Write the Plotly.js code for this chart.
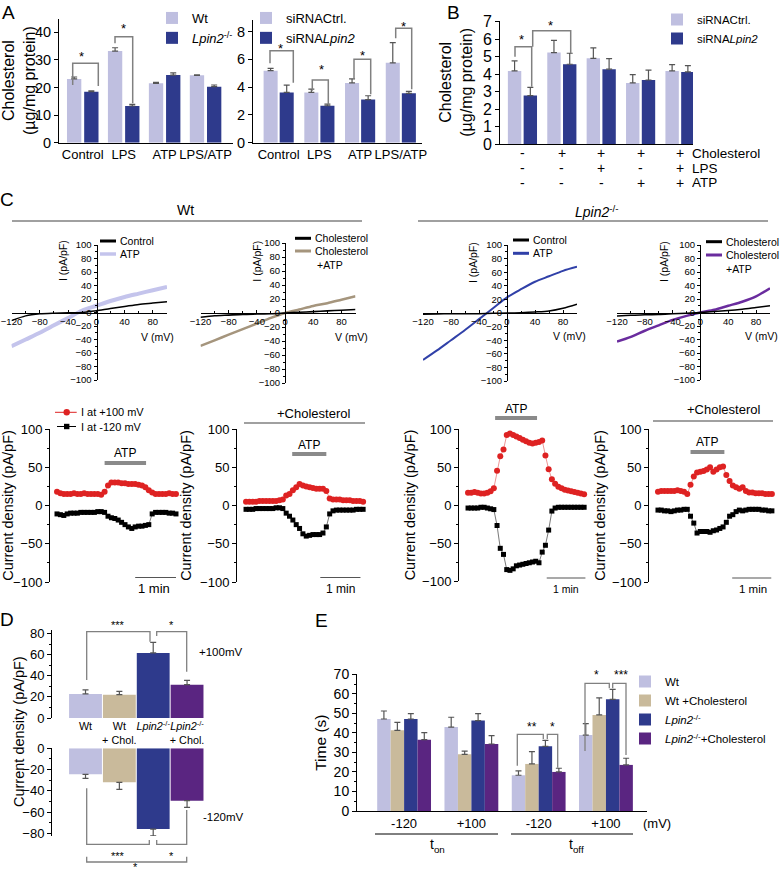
<!DOCTYPE html>
<html><head><meta charset="utf-8">
<script src="https://cdn.plot.ly/plotly-3.0.1.min.js"></script>
<style>html,body{margin:0;padding:0;background:#fff}#chart{width:782px;height:871px}</style>
</head><body><div id="chart"></div>
<script>
// ================= DATA =================
// Panel A (left)
const aCategories = ['Control', 'LPS', 'ATP', 'LPS/ATP'];
const aSeriesLeft = ['Wt', 'Lpin2-/-'];
const aWt = [23.1, 33.2, 21.5, 24.4];
const aWtErr = [0.7, 1.2, 0.4, 0.2];
const aKo = [18.5, 13.3, 24.5, 20.3];
const aKoErr = [0.3, 0.6, 0.8, 0.6];
// Panel A (right) and B series names
const siSeries = ['siRNACtrl.', 'siRNALpin2'];
const aSiCtrl = [5.18, 3.62, 4.3, 5.75];
const aSiCtrlErr = [0.17, 0.24, 0.3, 1.45];
const aSiLpin2 = [3.62, 2.66, 3.1, 3.55];
const aSiLpin2Err = [0.53, 0.12, 0.28, 0.15];
// Panel B
const bGroups = [0, 1, 2, 3, 4];
const bSiCtrl = [4.18, 5.23, 4.9, 3.49, 4.18];
const bSiCtrlErr = [0.57, 0.69, 0.6, 0.48, 0.36];
const bSiLpin2 = [2.77, 4.56, 4.28, 3.66, 4.12];
const bSiLpin2Err = [0.47, 0.63, 0.6, 0.56, 0.36];
const bCholRow = ['-', '+', '+', '+', '+'];
const bLpsRow = ['-', '-', '+', '-', '+'];
const bAtpRow = ['-', '-', '-', '+', '+'];
const bRowNames = ['Cholesterol', 'LPS', 'ATP'];
// Panel C: I-V curves (mV, pA/pF)
const ivV = [-120, -100, -80, -60, -40, -20, 0, 20, 40, 60, 80, 100];
const wtCtrlIV = [-12, -5, -2, -1, -0.5, 0, 2.5, 6, 9, 12, 14, 16];
const wtAtpIV = [-50, -40, -30, -19, -8, 3, 10, 17, 23, 28, 33, 38];
const wtCholIV = [-6, -4, -3, -2, -1.5, -1, 0, 1, 2, 3, 4, 5];
const wtCholAtpIV = [-47, -39, -31, -23, -15, -7, 0, 5, 10, 14, 19, 24];
const koCtrlIV = [-2, -1.5, -1, -1, -1, -0.5, 0, 0.5, 1.5, 3, 7, 13];
const koAtpIV = [-69, -55, -40, -25, -9, 7, 23, 35, 46, 54, 62, 68];
const koCholIV = [-5, -4, -3.5, -3, -2, -1, 0, 1.5, 3, 5, 7.5, 10];
const koCholAtpIV = [-43, -36, -27, -19, -11, -5, 0, 4, 10, 16, 24, 36];
// Panel C: time courses (s)
const tcTime = [0,5,10,15,20,25,30,35,40,45,50,55,60,65,70,75,80,85,90,95,100,105,110,115,120,125,130,135,140,145,150,155,160,165,170,175];
const tcTimeKo = [0,5,10,15,20,25,30,35,40,45,50,55,60,65,70,75,80,85,90,95,100,105,110,115,120,125,130,135,140,145,150,155,160,165,170,175,180];
const wtRed = [18,16,15,15,15,16,15,15,16,15,15,15,15,14,18,26,30,30,30,29,29,28,28,28,27,26,24,20,17,15,15,15,15,16,15,15];
const wtBlack = [-11,-12,-13,-11,-10,-10,-10,-9,-9,-9,-9,-9,-8,-8,-9,-14,-16,-17,-19,-22,-25,-28,-30,-28,-27,-27,-26,-25,-11,-9,-9,-9,-9,-10,-10,-11];
const wtCholRed = [5,5,5,5,6,6,6,6,6,6,7,8,13,15,20,24,28,26,25,24,23,22,22,22,19,9,8,8,8,7,7,7,6,6,6,5];
const wtCholBlack = [-5,-5,-5,-4,-4,-4,-4,-4,-4,-3,-3,-4,-10,-14,-19,-25,-30,-37,-40,-39,-38,-38,-38,-36,-28,-11,-7,-6,-6,-6,-6,-6,-6,-5,-5,-5];
const koRed = [16,16,17,16,15,15,16,18,22,45,64,73,92,94,92,90,88,86,84,82,81,82,83,85,65,47,34,28,24,22,20,19,18,17,16,15,14];
const koBlack = [-4,-4,-4,-4,-3,-3,-4,-5,-6,-27,-57,-65,-85,-86,-84,-80,-79,-78,-77,-76,-75,-74,-76,-62,-53,-33,-8,-4,-3,-3,-3,-3,-3,-3,-3,-3,-3];
const koCholRed = [18,19,19,19,19,19,20,19,18,15,27,38,43,44,45,47,50,44,47,50,51,40,32,26,24,22,24,19,17,17,16,16,16,15,15,15];
const koCholBlack = [-6,-6,-7,-7,-8,-7,-6,-6,-5,-5,-14,-23,-36,-34,-34,-34,-35,-33,-32,-30,-28,-22,-14,-12,-8,-6,-7,-6,-5,-5,-5,-5,-6,-6,-7,-7];
const atpStart = [70, 69, 42, 50];
const atpEnd = [131, 120, 107, 102];
const minStart = [115, 111, 122, 114];
const minEnd = [175, 171, 182, 174];
// Panel D
const dLabels = ['Wt', 'Wt\n+ Chol.', 'Lpin2-/-', 'Lpin2-/-\n+ Chol.'];
const dIndex = [0, 1, 2, 3];
const dTop = [22.8, 22.1, 61.7, 31.6];
const dTopErr = [3.8, 3.2, 10.1, 4.1];
const dBottom = [-24.5, -32, -76, -49.3];
const dBottomErr = [3.8, 6.6, 6.3, 6.2];
// Panel E
const eGroups = [0, 1, 2, 3];
const eTickLabels = ['-120', '+100', '-120', '+100'];
const eSeries = ['Wt', 'Wt +Cholesterol', 'Lpin2-/-', 'Lpin2-/-+Cholesterol'];
const eWt = [47.1, 43.0, 18.3, 38.9];
const eWtErr = [4.1, 5.0, 2.2, 5.8];
const eWtChol = [41.3, 29.0, 24.1, 49.2];
const eWtCholErr = [4.1, 1.7, 6.3, 8.7];
const eKo = [47.1, 46.3, 33.1, 57.2];
const eKoErr = [2.8, 3.6, 3.1, 5.1];
const eKoChol = [36.5, 34.3, 20.0, 23.6];
const eKoCholErr = [3.6, 4.3, 1.9, 3.4];

// ================= STYLE / HELPERS =================
const FONT = 'Liberation Sans, Arial, Helvetica, sans-serif';
const W = 782, H = 871;
const px = v => v / W;
const py = v => 1 - v / H;
const dX = (a, b) => [px(a), px(b)];
const dY = (top, bottom) => [py(bottom), py(top)];
const COL = {lav:'#bfbfe0', navy:'#2e3a8c', tan:'#c9ba9b', purple:'#5a2581',
  ivLav:'#c4c4ec', ivTan:'#a5957d', ivBlue:'#3040a8', ivPurple:'#6a2c9e',
  red:'#de2222', redLine:'#e87a7a', gray:'#808080', err:'#555555'};
const dColors = [COL.lav, COL.tan, COL.navy, COL.purple];
// rich-text formatting (italic gene name, superscript -/-) with explicit sizes
const fmt = (s, size) => s
  .replace('Lpin2-/-', '<span style="font-style:italic;font-size:' + size + 'px">Lpin2</span>' +
    '<span style="font-size:' + (0.7 * size).toFixed(1) + 'px;baseline-shift:' + (0.38 * size).toFixed(1) + 'px">-/-</span>')
  .replace('siRNALpin2', 'siRNA<span style="font-style:italic;font-size:' + size + 'px">Lpin2</span>')
  .replace('\n', '<br>');
const sub = (base, s, size) => base + '<span style="font-size:' + (0.7 * size).toFixed(1) + 'px;baseline-shift:-' + (0.28 * size).toFixed(1) + 'px">' + s + '</span>';

const up = (arr, c) => ({type:'data', symmetric:false, array:arr, arrayminus:arr.map(() => 0), color:c || COL.err, thickness:1.2, width:3});
const down = (arr, c) => ({type:'data', symmetric:false, array:arr.map(() => 0), arrayminus:arr, color:c || COL.err, thickness:1.2, width:3});
const baseAx = o => Object.assign({showgrid:false, zeroline:false, showline:true, linecolor:'#000', linewidth:1,
  ticks:'outside', ticklen:4, tickcolor:'#000', tickwidth:1, fixedrange:true, tickfont:{size:14, color:'#000'}}, o);

const traces = [];
// A left
traces.push({type:'bar', name:fmt(aSeriesLeft[0], 13), x:aCategories, y:aWt, xaxis:'x', yaxis:'y', offset:-0.385, width:0.35,
  marker:{color:COL.lav}, error_y:up(aWtErr), legend:'legend'});
traces.push({type:'bar', name:fmt(aSeriesLeft[1], 13), x:aCategories, y:aKo, xaxis:'x', yaxis:'y', offset:0.035, width:0.35,
  marker:{color:COL.navy}, error_y:up(aKoErr), legend:'legend'});
// A right
traces.push({type:'bar', name:fmt(siSeries[0], 13), x:aCategories, y:aSiCtrl, xaxis:'x2', yaxis:'y2', offset:-0.37, width:0.345,
  marker:{color:COL.lav}, error_y:up(aSiCtrlErr), legend:'legend2'});
traces.push({type:'bar', name:fmt(siSeries[1], 13), x:aCategories, y:aSiLpin2, xaxis:'x2', yaxis:'y2', offset:0.025, width:0.345,
  marker:{color:COL.navy}, error_y:up(aSiLpin2Err), legend:'legend2'});
// B
traces.push({type:'bar', name:fmt(siSeries[0], 11.5), x:bGroups, y:bSiCtrl, xaxis:'x3', yaxis:'y3', offset:-0.37, width:0.34,
  marker:{color:COL.lav}, error_y:up(bSiCtrlErr), legend:'legend3'});
traces.push({type:'bar', name:fmt(siSeries[1], 11.5), x:bGroups, y:bSiLpin2, xaxis:'x3', yaxis:'y3', offset:0.03, width:0.34,
  marker:{color:COL.navy}, error_y:up(bSiLpin2Err), legend:'legend3'});
// C: I-V
const iv = (y, ax, color, w) => ({type:'scatter', mode:'lines', x:ivV, y:y, xaxis:'x' + ax, yaxis:'y' + ax,
  line:{color:color, width:w, shape:'spline', smoothing:0.8}, showlegend:false, hoverinfo:'skip'});
traces.push(iv(wtAtpIV, 4, COL.ivLav, 4));
traces.push(iv(wtCtrlIV, 4, '#000', 1.5));
traces.push(iv(wtCholAtpIV, 5, COL.ivTan, 2.5));
traces.push(iv(wtCholIV, 5, '#000', 1.6));
traces.push(iv(koAtpIV, 6, COL.ivBlue, 2));
traces.push(iv(koCtrlIV, 6, '#000', 1.5));
traces.push(iv(koCholAtpIV, 7, COL.ivPurple, 2.5));
traces.push(iv(koCholIV, 7, '#000', 1.5));
// C: time courses
const tcRed = (t, y, ax) => ({type:'scatter', mode:'lines+markers', x:t, y:y, xaxis:'x' + ax, yaxis:'y' + ax,
  line:{color:COL.redLine, width:0.8}, marker:{color:COL.red, size:6, symbol:'circle'}, showlegend:false, cliponaxis:false});
const tcBlack = (t, y, ax) => ({type:'scatter', mode:'lines+markers', x:t, y:y, xaxis:'x' + ax, yaxis:'y' + ax,
  line:{color:'#555', width:0.8}, marker:{color:'#000', size:5, symbol:'square'}, showlegend:false, cliponaxis:false});
traces.push(tcRed(tcTime, wtRed, 8), tcBlack(tcTime, wtBlack, 8));
traces.push(tcRed(tcTime, wtCholRed, 9), tcBlack(tcTime, wtCholBlack, 9));
traces.push(tcRed(tcTimeKo, koRed, 10), tcBlack(tcTimeKo, koBlack, 10));
traces.push(tcRed(tcTime, koCholRed, 11), tcBlack(tcTime, koCholBlack, 11));
// D
traces.push({type:'bar', x:dIndex, y:dTop, xaxis:'x12', yaxis:'y12', offset:-0.485, width:0.97,
  marker:{color:dColors}, error_y:up(dTopErr), showlegend:false});
traces.push({type:'bar', x:dIndex, y:dBottom, xaxis:'x13', yaxis:'y13', offset:-0.485, width:0.97,
  marker:{color:dColors}, error_y:down(dBottomErr), showlegend:false});
// E
const eBar = (i, y, err, color, off) => ({type:'bar', name:fmt(eSeries[i], 11.5), x:eGroups, y:y, xaxis:'x14', yaxis:'y14',
  offset:off, width:0.2, marker:{color:color}, error_y:up(err), legend:'legend4'});
traces.push(eBar(0, eWt, eWtErr, COL.lav, -0.4));
traces.push(eBar(1, eWtChol, eWtCholErr, COL.tan, -0.2));
traces.push(eBar(2, eKo, eKoErr, COL.navy, 0));
traces.push(eBar(3, eKoChol, eKoCholErr, COL.purple, 0.2));

// ================= LAYOUT =================
const layout = {
  width:W, height:H, margin:{l:0, r:0, t:0, b:0},
  paper_bgcolor:'#ffffff', plot_bgcolor:'rgba(0,0,0,0)',
  font:{family:FONT, color:'#000', size:12},
  barmode:'overlay', showlegend:true, hovermode:false,
  annotations:[], shapes:[]
};
const cholTitle = 'Cholesterol<br>(µg/mg protein)';
layout.xaxis = baseAx({domain:dX(59, 233), range:[-0.58, 3.67], anchor:'y', type:'category', ticks:'', tickangle:0, tickfont:{size:13}});
layout.yaxis = baseAx({domain:dY(18.5, 142.7), range:[0, 45], anchor:'x', dtick:10, tickfont:{size:14.5},
  title:{text:cholTitle, font:{size:16}, standoff:2}});
layout.xaxis2 = baseAx({domain:dX(253, 422), range:[-0.63, 3.52], anchor:'y2', type:'category', ticks:'', tickangle:0, tickfont:{size:13}});
layout.yaxis2 = baseAx({domain:dY(20, 142.7), range:[0, 8.83], anchor:'x2', dtick:2, tickfont:{size:14.5}});
layout.xaxis3 = baseAx({domain:dX(500, 693), range:[-0.57, 4.33], anchor:'y3', showticklabels:false, ticks:''});
layout.yaxis3 = baseAx({domain:dY(20.7, 144), range:[0, 7.05], anchor:'x3', dtick:1, tickfont:{size:16},
  title:{text:cholTitle, font:{size:16}, standoff:6}});
const ivX = (a, b, yPos) => baseAx({domain:dX(a, b), range:[-120, 100], anchor:'free', position:py(yPos),
  ticks:'inside', ticklen:3, tick0:0, dtick:40, tickfont:{size:9.5}, ticklabeloverflow:'allow',
  minor:{dtick:20, ticks:'inside', ticklen:2, tickcolor:'#000', showgrid:false}});
const ivY = (top, bottom, xPos) => baseAx({domain:dY(top, bottom), range:[-100, 100], anchor:'free', position:px(xPos),
  ticks:'outside', ticklen:3, dtick:20, tickfont:{size:9.5},
  minor:{dtick:10, ticks:'outside', ticklen:2, tickcolor:'#000', showgrid:false}});
layout.xaxis4 = ivX(11.5, 167, 312.5); layout.yaxis4 = ivY(245, 380, 96.5);
layout.xaxis5 = ivX(200.5, 355.5, 313); layout.yaxis5 = ivY(243, 383, 285);
layout.xaxis6 = ivX(423, 577, 313);   layout.yaxis6 = ivY(245, 381, 507);
layout.xaxis7 = ivX(617, 770, 312.5); layout.yaxis7 = ivY(245, 380, 700);
const tcX = (a, b, r, yId) => ({domain:dX(a, b), range:r, anchor:yId, visible:false, fixedrange:true});
const tcY = (top, bottom, xId, so) => baseAx({domain:dY(top, bottom), range:[-100, 100], anchor:xId, dtick:50,
  tickfont:{size:13}, minor:{dtick:25, ticks:'outside', ticklen:2, tickcolor:'#000', showgrid:false},
  title:{text:'Current density (pA/pF)', font:{size:14.5}, standoff:so}});
layout.xaxis8 = tcX(50, 180, [-10.3, 180.9], 'y8');   layout.yaxis8 = tcY(429, 582, 'x8', 3);
layout.xaxis9 = tcX(237, 365, [-13.5, 177.8], 'y9');  layout.yaxis9 = tcY(429, 582, 'x9', 5);
layout.xaxis10 = tcX(459, 588, [-14, 186], 'y10');    layout.yaxis10 = tcY(429, 581, 'x10', 3);
layout.xaxis11 = tcX(649, 776, [-13.8, 181.3], 'y11'); layout.yaxis11 = tcY(429, 582, 'x11', 3);
layout.xaxis12 = baseAx({domain:dX(52, 205), range:[-0.99, 3.53], anchor:'y12', showline:false, ticks:'', tickangle:0,
  tickvals:dIndex, ticktext:dLabels.map(s => fmt(s, 10.8)), tickfont:{size:10.8}});
layout.yaxis12 = baseAx({domain:dY(630, 718), range:[0, 83.5], anchor:'x12', dtick:20, tickfont:{size:13},
  minor:{dtick:10, ticks:'outside', ticklen:2, tickcolor:'#000', showgrid:false}});
layout.xaxis13 = {domain:dX(52, 205), range:[-0.99, 3.53], anchor:'y13', visible:false, fixedrange:true};
layout.yaxis13 = baseAx({domain:dY(748.3, 836), range:[-82.5, 0], anchor:'x13', dtick:20, tickfont:{size:13},
  minor:{dtick:10, ticks:'outside', ticklen:2, tickcolor:'#000', showgrid:false}});
layout.xaxis14 = baseAx({domain:dX(357, 647), range:[-0.7, 3.61], anchor:'y14', ticks:'', tickangle:0,
  tickvals:eGroups, ticktext:eTickLabels, tickfont:{size:13}});
layout.yaxis14 = baseAx({domain:dY(674.3, 811), range:[0, 70], anchor:'x14', dtick:10, tickfont:{size:14},
  minor:{dtick:5, ticks:'outside', ticklen:2, tickcolor:'#000', showgrid:false},
  title:{text:'Time (s)', font:{size:15.5}, standoff:3}});

const lg = (x, y, size) => ({x:px(x), y:py(y), xanchor:'left', yanchor:'top', bgcolor:'rgba(0,0,0,0)',
  borderwidth:0, font:{size:size, color:'#000'}, itemwidth:30, tracegroupgap:0, traceorder:'normal'});
layout.legend = lg(152, 3, 13);
layout.legend2 = lg(246, 3, 13);
layout.legend3 = lg(657, 5, 11.5);
layout.legend4 = lg(625, 667, 11.5);

// ---- annotations & shapes ----
const ann = layout.annotations, shp = layout.shapes;
const T = (text, x, y, size, o) => ann.push(Object.assign({text:text, x:px(x), y:py(y), xref:'paper', yref:'paper',
  showarrow:false, font:{size:size, color:'#000'}, xanchor:'center', yanchor:'middle'}, o || {}));
const star = (text, x, yGlyph, size, o) => T(text, x, yGlyph + 0.3 * size, size, o);
const poly = (pts, color, w) => shp.push({type:'path', xref:'paper', yref:'paper',
  path:pts.map((p, i) => (i ? 'L' : 'M') + px(p[0]) + ',' + py(p[1])).join(' '), line:{color:color, width:w}});
const hline = (x0, x1, y, color, w) => shp.push({type:'line', xref:'paper', yref:'paper', x0:px(x0), x1:px(x1), y0:py(y), y1:py(y), line:{color:color, width:w}});

// panel letters
T('A', 8.5, 0, 19, {yanchor:'top'}); T('B', 453, 0, 19, {yanchor:'top'});
T('C', 7, 200, 19); T('D', 7, 619, 19); T('E', 321.5, 620, 19);
// A brackets & stars
[[[72.7,85],[72.7,63.3],[98.3,63.3],[98.3,86]],
 [[115,43.3],[115,36.7],[132.7,36.7],[132.7,103.3]],
 [[270,63.3],[270,50.7],[293.3,50.7],[293.3,82.7]],
 [[312.3,90.7],[312.3,80],[328.3,80],[328.3,105]],
 [[354,78.7],[354,59.3],[370.7,59.3],[370.7,94.3]],
 [[395.7,38.3],[395.7,28.3],[411.7,28.3],[411.7,89.3]]].forEach(b => poly(b, COL.gray, 1.5));
[[81.7,52.7],[123.3,25],[280,45],[321.7,65.7],[362.7,51.7],[403,22.7]].forEach(s => star('*', s[0], s[1], 13));
// B brackets, stars, condition table
poly([[515,56.7],[515,46.7],[531.7,46.7],[531.7,86.7]], COL.gray, 1.5);
poly([[532.7,46.7],[532.7,30.7],[570.7,30.7],[570.7,53.3]], COL.gray, 1.5);
star('*', 521.7, 36, 13); star('*', 550, 21.7, 13);
const rowsY = [153.3, 168.3, 182.7];
[bCholRow, bLpsRow, bAtpRow].forEach((row, r) => {
  row.forEach((sgn, i) => ann.push({text:sgn, x:bGroups[i], xref:'x3', y:py(rowsY[r]), yref:'paper', showarrow:false,
    font:{size:14, color:'#000'}, xanchor:'center', yanchor:'middle', height:12, borderpad:0}));
  T(bRowNames[r], 691, rowsY[r], 13.5, {xanchor:'left', height:13, borderpad:0});
});
// C headers
T('Wt', 185, 210, 14); hline(12, 362, 221, COL.gray, 1.5);
T(fmt('Lpin2-/-', 14), 597, 212, 14); hline(418, 768, 221, COL.gray, 1.5);
// IV axis labels
[[63, 261], [256.7, 261], [473, 263], [664, 262]].forEach(p => T('I (pA/pF)', p[0], p[1], 10.5, {textangle:-90}));
[[157.5, 337], [351, 337], [569, 336], [761, 336]].forEach(p => T('V (mV)', p[0], p[1], 10.5));
// IV legends
const ivLeg = (x, y, color, w, text) => { hline(x, x + 16, y, color, w); T(text, x + 18, y, 10.5, {xanchor:'left'}); };
ivLeg(100, 241, '#000', 3, 'Control'); ivLeg(100, 254, COL.ivLav, 3.5, 'ATP');
ivLeg(295, 238.3, '#000', 3, 'Cholesterol'); ivLeg(295, 251, COL.ivTan, 3, 'Cholesterol'); T('+ATP', 315, 265, 10.5, {xanchor:'left'});
ivLeg(513, 240, '#000', 3, 'Control'); ivLeg(513, 253.3, COL.ivBlue, 3, 'ATP');
ivLeg(706, 241.7, '#000', 3, 'Cholesterol'); ivLeg(706, 255, COL.ivPurple, 3, 'Cholesterol'); T('+ATP', 724, 269, 10.5, {xanchor:'left'});
// time-course legend
hline(55, 76.7, 412.3, COL.red, 1);
shp.push({type:'circle', xref:'paper', yref:'paper', x0:px(63.5), x1:px(69.9), y0:py(409.1), y1:py(415.5), fillcolor:COL.red, line:{width:0}});
T('I at +100 mV', 79, 412.3, 11, {xanchor:'left'});
hline(57, 76, 426.5, '#000', 1);
shp.push({type:'rect', xref:'paper', yref:'paper', x0:px(64), x1:px(69.4), y0:py(423.8), y1:py(429.2), fillcolor:'#000', line:{width:0}});
T('I at -120 mV', 79, 426.5, 11, {xanchor:'left'});
// ATP bars and 1-min scale bars
const atpY = [463, 454, 418, 452];
const atpTextY = [453, 444.5, 409, 442];
const minY = [577.5, 577.5, 578, 578];
const minTxt = [[154, 588, 13], [340, 588.5, 12], [566, 589.3, 10.5], [753, 589, 11.5]];
[8, 9, 10, 11].forEach((ax, i) => {
  shp.push({type:'line', xref:'x' + ax, yref:'paper', x0:atpStart[i], x1:atpEnd[i], y0:py(atpY[i]), y1:py(atpY[i]), line:{color:'#8a8a8a', width:4}});
  ann.push({text:'ATP', x:(atpStart[i] + atpEnd[i]) / 2, xref:'x' + ax, y:py(atpTextY[i]), yref:'paper', showarrow:false,
    font:{size:12, color:'#000'}, xanchor:'center', yanchor:'middle'});
  shp.push({type:'line', xref:'x' + ax, yref:'paper', x0:minStart[i], x1:minEnd[i], y0:py(minY[i]), y1:py(minY[i]), line:{color:'#555', width:1.2}});
  T('1 min', minTxt[i][0], minTxt[i][1], minTxt[i][2]);
});
T('+Cholesterol', 313, 413.3, 13); hline(244, 365, 423, COL.gray, 1.5);
T('+Cholesterol', 723, 410, 13); hline(653, 773, 421, COL.gray, 1.5);
// D
T('Current density (pA/pF)', 19, 732, 14.5, {textangle:-90});
T('+100mV', 221, 652, 11.5); T('-120mV', 223, 817, 11.5);
[[[86.7,680],[86.7,631.7],[150,631.7],[150,641.7]],
 [[156.7,636],[156.7,631.7],[186.7,631.7],[186.7,671.7]],
 [[86.7,788.3],[86.7,844.3],[149.3,844.3],[149.3,840]],
 [[156.7,840],[156.7,844.3],[186.7,844.3],[186.7,810]],
 [[86.7,856.7],[86.7,862],[186.7,862],[186.7,856.7]]].forEach(b => poly(b, COL.gray, 1.3));
star('***', 118.3, 622, 11); star('*', 171.7, 622, 11);
star('***', 118.3, 852.3, 11); star('*', 171.7, 852.3, 11);
T('*', 135, 866, 11, {height:9, borderpad:0});
// E
[[[517.3,765.7],[517.3,734.3],[543.3,734.3],[543.3,739]],
 [[547.3,739],[547.3,734.3],[557.7,734.3],[557.7,767.7]],
 [[585,751],[585,683.3],[609.3,683.3],[609.3,688.3]],
 [[612.7,688.3],[612.7,683.3],[626,683.3],[626,755]]].forEach(b => poly(b, COL.gray, 1.3));
star('**', 531.7, 723.3, 12); star('*', 552.7, 723.3, 12); star('*', 596.7, 671, 12); star('***', 621, 671, 12);
T('(mV)', 656.7, 823, 13);
hline(375, 498, 834, '#000', 1); hline(511, 633, 834, '#000', 1);
T(sub('t', 'on', 14), 437.5, 845, 14); T(sub('t', 'off', 14), 576, 845, 14);

Plotly.newPlot('chart', traces, layout, {staticPlot:true, displayModeBar:false});
</script>
</body></html>
